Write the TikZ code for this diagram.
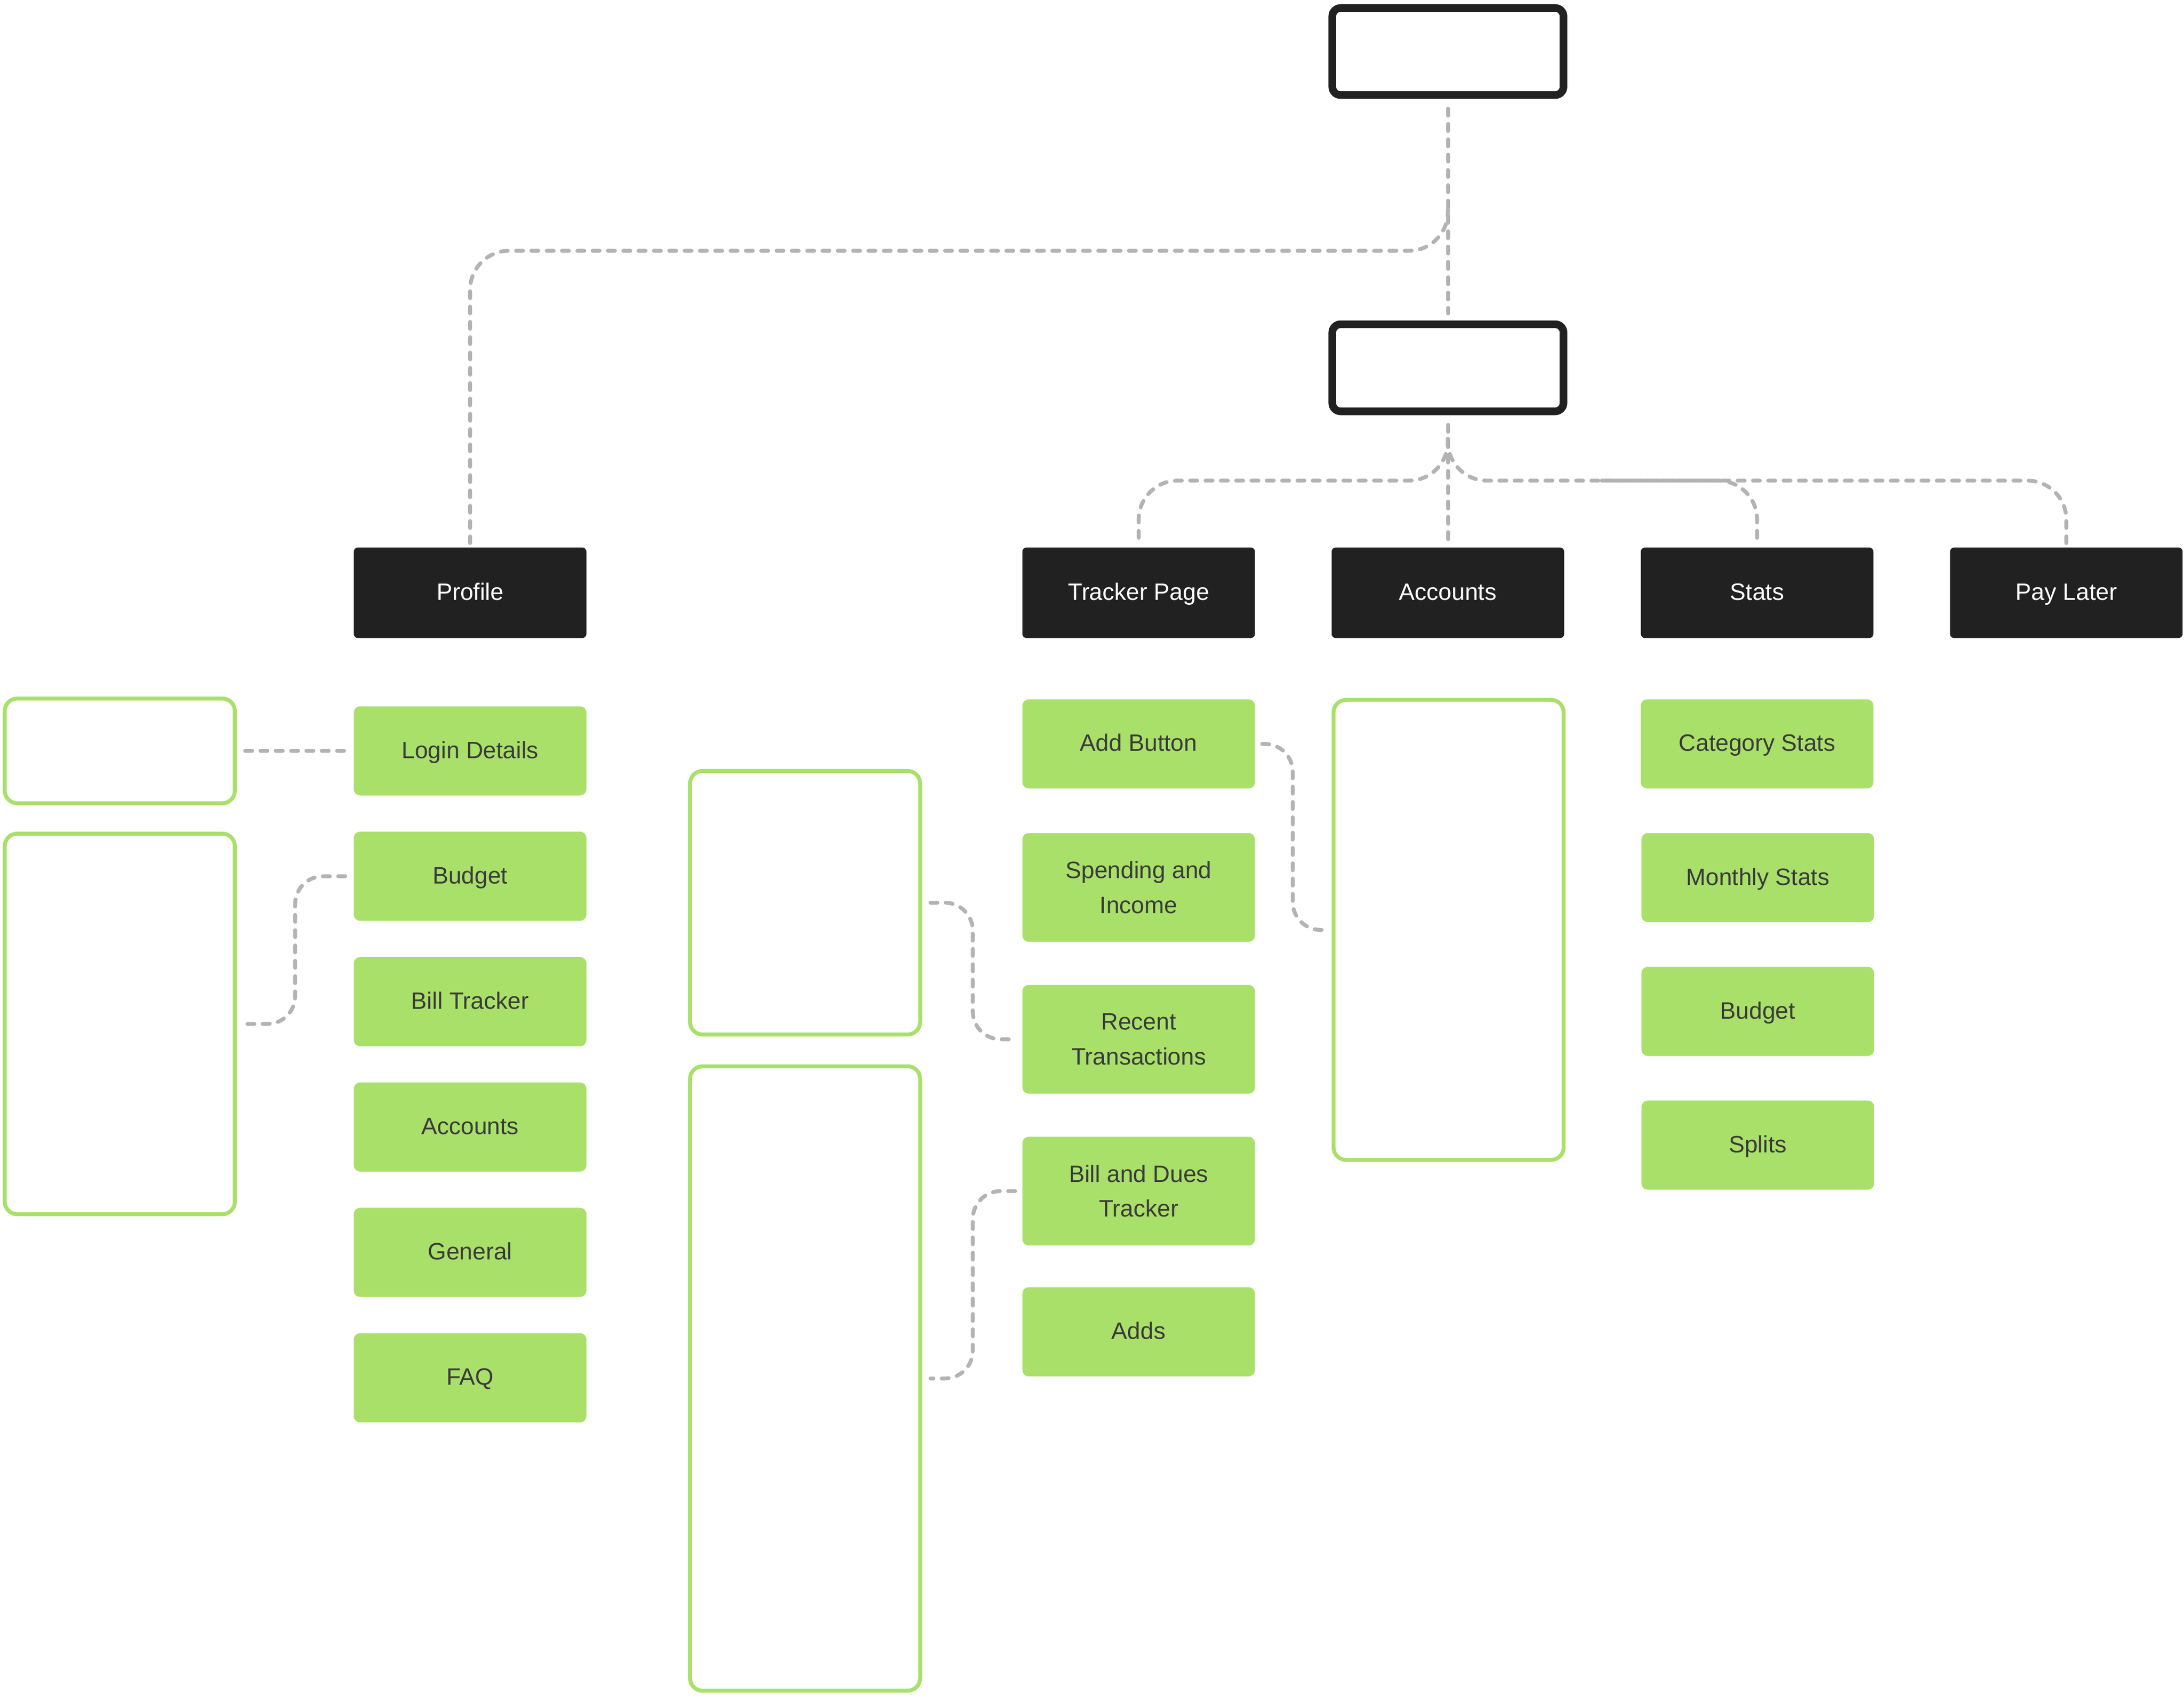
\documentclass[tikz,border=0pt]{standalone}
\usepackage{fontspec}
\setmainfont{Liberation Sans}
\usetikzlibrary{calc}

\definecolor{nodeblack}{HTML}{212121}
\definecolor{leafgreen}{HTML}{A9E06A}
\definecolor{leaftext}{HTML}{3A3A3A}
\definecolor{linkgrey}{HTML}{B3B3B3}

\tikzset{
  rootbox/.style={draw=nodeblack, line width=5.5pt, fill=white, rounded corners=6pt,
    minimum width=166pt, minimum height=62.5pt, inner sep=0pt},
  darkbox/.style={fill=nodeblack, text=white, rounded corners=3pt,
    minimum width=167pt, minimum height=65pt, inner sep=0pt,
    text height=1.08em, text depth=0.02em,
    font=\fontsize{17}{25}\selectfont},
  leafbox/.style={fill=leafgreen, text=leaftext, rounded corners=4.5pt, align=center,
    minimum width=167pt, minimum height=64pt, inner sep=0pt,
    font=\fontsize{17}{25}\selectfont},
  oneline/.style={text height=1.08em, text depth=0.02em},
  notebox/.style={draw=leafgreen, line width=2.8pt, fill=white, rounded corners=9pt,
    minimum width=165.2pt, inner sep=0pt},
  link/.style={draw=linkgrey, line width=2.8pt, dash pattern=on 5pt off 6pt,
    line cap=round, rounded corners=28pt},
  sidelink/.style={link, rounded corners=20pt},
}

\begin{document}
\begin{tikzpicture}[x=1pt,y=-1pt]
    \useasboundingbox (0,0) rectangle (1568,1217.4);

    % top of the tree
    \node [rootbox] (app) at (1039.5,37) {};
    \node [rootbox] (home) at (1039.5,264) {};

    \node [darkbox] (profile) at (337.5,425.5) {Profile};
    \node [darkbox] (tracker) at (817.5,425.5) {Tracker Page};
    \node [darkbox] (accounts) at (1039.5,425.5) {Accounts};
    \node [darkbox] (stats) at (1261.5,425.5) {Stats};
    \node [darkbox] (paylater) at (1483.5,425.5) {Pay Later};

    % profile column
    \node [leafbox, oneline] (login) at (337.5,539) {Login Details};
    \node [leafbox, oneline] (budget) at (337.5,629) {Budget};
    \node [leafbox, oneline] (billtracker) at (337.5,719) {Bill Tracker};
    \node [leafbox, oneline] (profaccounts) at (337.5,809) {Accounts};
    \node [leafbox, oneline] (general) at (337.5,899) {General};
    \node [leafbox, oneline] (faq) at (337.5,989) {FAQ};

    % tracker column
    \node [leafbox, oneline] (addbutton) at (817.5,534) {Add Button};
    \node [leafbox, minimum height=78pt] (spending) at (817.5,637) {Spending and\\Income};
    \node [leafbox, minimum height=78pt] (recent) at (817.5,746) {Recent\\Transactions};
    \node [leafbox, minimum height=78pt] (dues) at (817.5,855) {Bill and Dues\\Tracker};
    \node [leafbox, oneline] (adds) at (817.5,956) {Adds};

    % stats column
    \node [leafbox, oneline] (catstats) at (1261.5,534) {Category Stats};
    \node [leafbox, oneline] (monthstats) at (1262,630) {Monthly Stats};
    \node [leafbox, oneline] (statbudget) at (1262,726) {Budget};
    \node [leafbox, oneline] (splits) at (1262,822) {Splits};

    % detail boxes
    \node [notebox, minimum height=75.2pt] (loginbox) at (86,539) {};
    \node [notebox, minimum height=273.2pt] (budgetbox) at (86,735) {};
    \node [notebox, minimum height=189.2pt] (recentbox) at (578,648) {};
    \node [notebox, minimum height=448.2pt] (duesbox) at (578,989.5) {};
    \node [notebox, minimum height=330.2pt] (addbox) at (1040,667.5) {};

    % links
    \coordinate (split) at (1039.5,150);
    \coordinate (fork) at (1039.5,315);
    \coordinate (joint) at (1150,345);

    \draw [link] ([yshift=-7pt]app.south) -- ([yshift=5pt]home.north);
    \draw [link] (split) |- (profile.north |- 0,180) -- ([yshift=3pt]profile.north);

    \draw [link] ([yshift=-7pt]home.south) -- ([yshift=5pt]accounts.north);
    \draw [link] (fork) |- (tracker.north |- 0,345) -- ([yshift=3pt]tracker.north);
    \draw [link] (fork) |- (stats.north |- 0,345) -- ([yshift=3pt]stats.north);
    \draw [link, dash phase=1.5pt] (joint) -| ([yshift=3pt]paylater.north);

    \draw [sidelink] ([xshift=6pt]loginbox.east) -- ([xshift=-6pt]login.west);
    \draw [sidelink] ([xshift=-6pt]budget.west) -| ($([xshift=-6pt]budget.west)!0.5!([xshift=6pt]budgetbox.east)$) |- ([xshift=6pt]budgetbox.east);
    \draw [sidelink] ([xshift=5pt]addbutton.east) -| ($([xshift=5pt]addbutton.east)!0.5!([xshift=-6pt]addbox.west)$) |- ([xshift=-6pt]addbox.west);
    \draw [sidelink] ([xshift=6pt]recentbox.east) -| ($([xshift=6pt]recentbox.east)!0.5!([xshift=-5pt]recent.west)$) |- ([xshift=-5pt]recent.west);
    \draw [sidelink] ([xshift=-5pt]dues.west) -| ($([xshift=-5pt]dues.west)!0.5!([xshift=6pt]duesbox.east)$) |- ([xshift=6pt]duesbox.east);

\end{tikzpicture}
\end{document}
